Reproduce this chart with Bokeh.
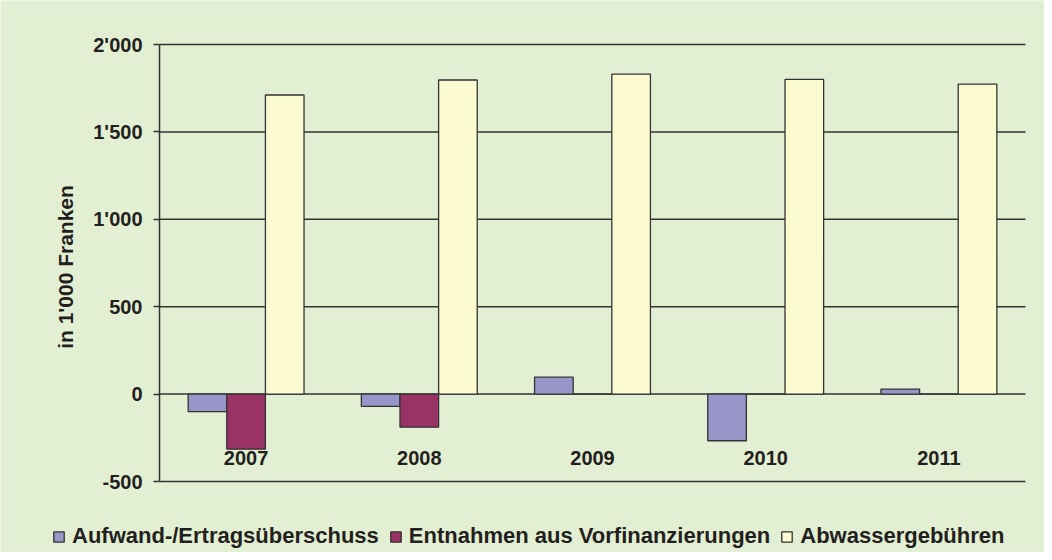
import math
from bokeh.plotting import figure
from bokeh.models import (ColumnDataSource, Range1d, FixedTicker, LinearAxis,
                          Legend, LegendItem)
from bokeh.transform import dodge
from bokeh.core.properties import value
from bokeh.embed import file_html
from bokeh.resources import INLINE

# ---- data ----
years = ["2007", "2008", "2009", "2010", "2011"]
aufwand = [-100, -70, 97, -267, 29]          # Aufwand-/Ertragsüberschuss
entnahmen = [-315, -189, 0, 0, 0]            # Entnahmen aus Vorfinanzierungen
gebuehren = [1711, 1797, 1830, 1800, 1773]   # Abwassergebühren
series_names = ["Aufwand-/Ertragsüberschuss", "Entnahmen aus Vorfinanzierungen", "Abwassergebühren"]
y_ticks = [-500, 0, 500, 1000, 1500, 2000]
y_tick_labels = ["-500", "0", "500", "1'000", "1'500", "2'000"]
y_axis_title = "in 1'000 Franken"

# ---- styles ----
GREEN = "#E3EFD2"
DARK = "#231F20"
LINE = "#333333"
COLORS = ["#9896C8", "#993366", "#FCFAD0"]
FONT = "Liberation Sans"

n = len(years)
ymin, ymax = y_ticks[0], y_ticks[-1]
source = ColumnDataSource(dict(pos=[i + 0.5 for i in range(n)], year=years,
                               aufwand=aufwand, entnahmen=entnahmen, gebuehren=gebuehren))

# frame = whole canvas; category area spans x 0..n, value area -500..2000
W, H = 1044, 552
left_px, right_px, top_px, bottom_px = 159, 19, 44, 71
ux = (W - left_px - right_px) / n
uy = (H - top_px - bottom_px) / (ymax - ymin)
x_range = Range1d(-left_px / ux, n + right_px / ux)
y_range = Range1d(ymin - bottom_px / uy, ymax + top_px / uy)

p = figure(x_range=x_range, y_range=y_range, width=W, height=H,
           output_backend="svg", toolbar_location=None,
           x_axis_location=None, y_axis_location=None,
           min_border_left=0, min_border_right=0, min_border_top=0, min_border_bottom=0,
           background_fill_color=GREEN, border_fill_color=GREEN, outline_line_color=None)
p.grid.visible = False

# horizontal grid lines across the category area
grid_src = ColumnDataSource(dict(y=y_ticks, x0=[0] * len(y_ticks), x1=[n] * len(y_ticks)))
p.segment(x0="x0", x1="x1", y0="y", y1="y", source=grid_src, line_color=LINE, line_width=1.5)

bw = 0.223
cols = ["aufwand", "entnahmen", "gebuehren"]
rs = []
for i, c in enumerate(cols):
    rs.append(p.vbar(x=dodge("pos", (i - 1) * bw), top=c, width=bw, source=source,
                     fill_color=COLORS[i], line_color=LINE, line_width=1.3))

# category labels sitting inside the plot, like the original
p.text(x="pos", y=-368, text="year", source=source, text_font=value(FONT),
       text_font_style="bold", text_font_size="20px", text_color=DARK,
       text_align="center", text_baseline="middle")

# value axis fixed at the left edge of the category area
ax = LinearAxis(fixed_location=0, bounds=(ymin, ymax))
ax.ticker = FixedTicker(ticks=y_ticks)
ax.major_label_overrides = {t: l for t, l in zip(y_ticks, y_tick_labels)}
ax.major_label_text_font = FONT
ax.major_label_text_font_style = "bold"
ax.major_label_text_font_size = "20px"
ax.major_label_text_color = DARK
ax.major_label_standoff = 11
ax.major_tick_in = 0
ax.major_tick_out = 6
ax.major_tick_line_color = LINE
ax.major_tick_line_width = 1.5
ax.minor_tick_line_color = None
ax.axis_line_color = LINE
ax.axis_line_width = 1.5
p.add_layout(ax, "left")

# axis title, centred on the value axis
p.text(x=-94 / ux, y=(ymin + ymax) / 2 - 4 / uy, text=[y_axis_title], angle=math.pi / 2,
       text_font=value(FONT), text_font_style="bold", text_font_size="21px",
       text_color=DARK, text_align="center", text_baseline="middle")

legend = Legend(items=[LegendItem(label=nm, renderers=[r]) for nm, r in zip(series_names, rs)],
                orientation="horizontal", location=(52, 3),
                padding=3, margin=0, spacing=10, label_standoff=7,
                glyph_width=13, glyph_height=13,
                label_text_font=FONT, label_text_font_style="bold",
                label_text_font_size="22px", label_text_color=DARK,
                background_fill_alpha=0, border_line_color=None)
p.add_layout(legend, "center")

open("out.html", "w").write(file_html(p, INLINE))
